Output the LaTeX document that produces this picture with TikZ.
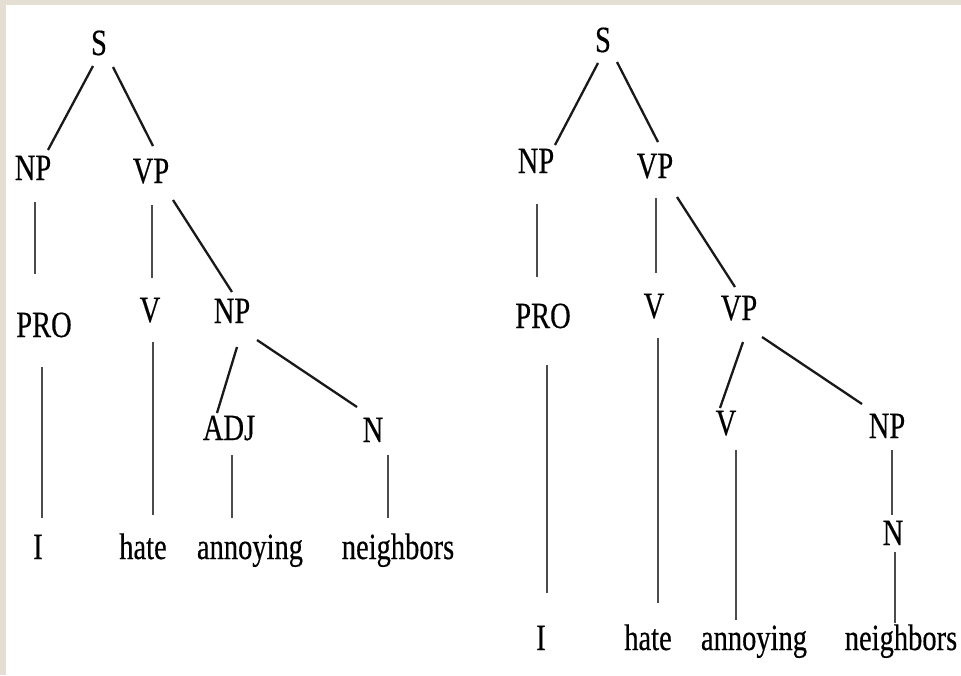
\documentclass[tikz,border=0pt]{standalone}
\usepackage{fontspec}
\setmainfont[FakeStretch=0.77, FakeBold=0.4]{Liberation Serif}
\usepackage{tikz}
\usetikzlibrary{calc}
\definecolor{slidebeige}{RGB}{229, 223, 211}
\tikzset{
    synnode/.style={
        anchor=base, inner sep=0pt, font=\fontsize{37}{40}\selectfont
    },
    branch/.style={
        line width=2.3pt, black!90
    },
    stem/.style={
        line width=1.7pt, black!70
    }
}

\begin{document}
\begin{tikzpicture}[x=1pt, y=-1pt]

        % ======================================
        % KHUNG
        % ======================================
        \useasboundingbox (0,0) rectangle (961,675);
        \fill[slidebeige] (0,0) rectangle (961,675);
        \fill[white] (6,5) rectangle (961,675);

        % ======================================
        % CÂY BÊN TRÁI (ADJ + N)
        % ======================================
        \node[synnode] (S1)   at (99,55)   {S};
        \node[synnode] (NPa)  at (33,180)  {NP};
        \node[synnode] (VPa)  at (151,183) {VP};
        \node[synnode] (PROa) at (44,337)  {PRO};
        \node[synnode] (Va)   at (150,322) {V};
        \node[synnode] (NPb)  at (232,323) {NP};
        \node[synnode] (ADJa) at (229,440) {ADJ};
        \node[synnode] (Na)   at (373,442) {N};
        \node[synnode] (Ia)        at (38,559)  {I};
        \node[synnode] (hatea)     at (143,559) {hate};
        \node[synnode] (annoyinga) at (250,559) {annoying};
        \node[synnode] (neighba)   at (398,559) {neighbors};

        \draw[branch] ([shift={(-6,11)}]S1.base)  -- ([shift={(15,-30)}]NPa.base);
        \draw[branch] ([shift={(14,12)}]S1.base)  -- ([shift={(2,-37)}]VPa.base);
        \draw[stem]   ([shift={(2,22)}]NPa.base)  -- ([shift={(-9,-63)}]PROa.base);
        \draw[stem]   ([shift={(1,22)}]VPa.base)  -- ([shift={(2,-44)}]Va.base);
        \draw[branch] ([shift={(22,17)}]VPa.base) -- ([shift={(0,-31)}]NPb.base);
        \draw[stem]   ([shift={(3,20)}]Va.base)   -- ([shift={(10,-44)}]hatea.base);
        \draw[stem]   ([shift={(-2,30)}]PROa.base) -- ([shift={(4,-41)}]Ia.base);
        \draw[branch] ([shift={(5,24)}]NPb.base)  -- ([shift={(-12,-27)}]ADJa.base);
        \draw[branch] ([shift={(25,17)}]NPb.base) -- ([shift={(-16,-35)}]Na.base);
        \draw[stem]   ([shift={(3,15)}]ADJa.base) -- ([shift={(-18,-41)}]annoyinga.base);
        \draw[stem]   ([shift={(15,13)}]Na.base)  -- ([shift={(-10,-41)}]neighba.base);

        % ======================================
        % CÂY BÊN PHẢI (V + NP)
        % ======================================
        \node[synnode] (S2)   at (603,52)  {S};
        \node[synnode] (NPc)  at (536,173) {NP};
        \node[synnode] (VPc)  at (655,178) {VP};
        \node[synnode] (PROb) at (543,328) {PRO};
        \node[synnode] (Vb)   at (654,318) {V};
        \node[synnode] (VPd)  at (739,320) {VP};
        \node[synnode] (Vc)   at (726,435) {V};
        \node[synnode] (NPd)  at (887,438) {NP};
        \node[synnode] (Nb)   at (893,545) {N};
        \node[synnode] (Ib)        at (541,650) {I};
        \node[synnode] (hateb)     at (648,650) {hate};
        \node[synnode] (annoyingb) at (754,650) {annoying};
        \node[synnode] (neighbb)   at (901,650) {neighbors};

        \draw[branch] ([shift={(-5,11)}]S2.base)  -- ([shift={(19,-28)}]NPc.base);
        \draw[branch] ([shift={(14,10)}]S2.base)  -- ([shift={(3,-36)}]VPc.base);
        \draw[stem]   ([shift={(1,31)}]NPc.base)  -- ([shift={(-6,-51)}]PROb.base);
        \draw[stem]   ([shift={(1,20)}]VPc.base)  -- ([shift={(2,-45)}]Vb.base);
        \draw[branch] ([shift={(22,19)}]VPc.base) -- ([shift={(-4,-33)}]VPd.base);
        \draw[branch] ([shift={(4,22)}]VPd.base)  -- ([shift={(-6,-27)}]Vc.base);
        \draw[branch] ([shift={(23,17)}]VPd.base) -- ([shift={(-25,-34)}]NPd.base);
        \draw[stem]   ([shift={(4,37)}]PROb.base) -- ([shift={(6,-57)}]Ib.base);
        \draw[stem]   ([shift={(4,20)}]Vb.base)   -- ([shift={(10,-47)}]hateb.base);
        \draw[stem]   ([shift={(10,15)}]Vc.base)  -- ([shift={(-18,-30)}]annoyingb.base);
        \draw[stem]   ([shift={(5,12)}]NPd.base)  -- ([shift={(-1,-30)}]Nb.base);
        \draw[stem]   ([shift={(2,7)}]Nb.base)    -- ([shift={(-6,-27)}]neighbb.base);

\end{tikzpicture}
\end{document}
